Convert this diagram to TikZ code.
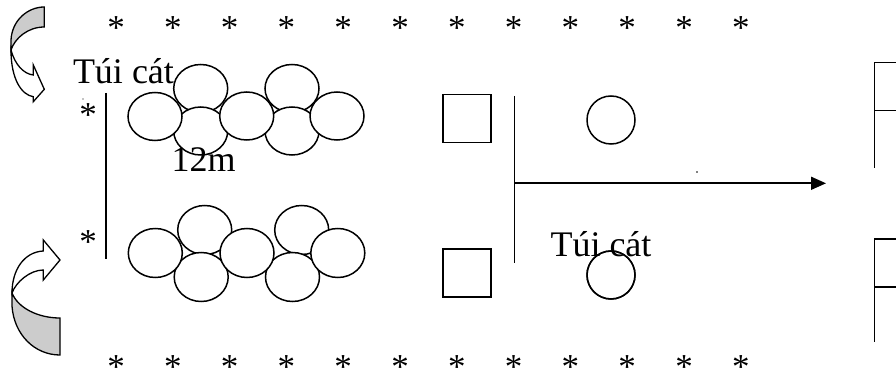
\documentclass[tikz,border=0pt]{standalone}
\usepackage{fontspec}
\setmainfont{Liberation Serif}
\usetikzlibrary{arrows.meta}
\definecolor{bandgray}{RGB}{204,204,204}
\tikzset{
  txt/.style={inner sep=0pt, outer sep=0pt, anchor=base west, font=\fontsize{36}{40}\selectfont},
  star/.style={inner sep=0pt, outer sep=0pt, anchor=base, font=\fontsize{35}{40}\selectfont},
  ln/.style={line width=1.6pt},
  sq/.style={draw, line width=1.5pt, minimum size=48pt, inner sep=0pt},
  rnd/.style={draw, circle, line width=1.5pt, minimum size=48pt, inner sep=0pt},
  ribbon/.style={draw, line width=1.3pt, line join=miter},
}
\begin{document}
\begin{tikzpicture}[x=1pt,y=-1pt]
\useasboundingbox (0,0) rectangle (896,379);

% stars
\foreach \i in {0,...,11}{
  \node[star] (st\i) at ({116+\i*56.8},39.5) {*};
  \node[star] (sb\i) at ({116+\i*56.8},378.5) {*};
}
\node[star] (sl1) at (88,126.5) {*};
\node[star] (sl2) at (88,253.5) {*};

% left vertical line
\coordinate (lt) at (106,93);
\coordinate (lb) at (106,259);
\draw[ln] (lt) -- (lb);

% top cluster of sand bags
\foreach \n/\x/\y in {tB/200.7/88.5, tE/292/88.5, tC/200.7/131, tF/292/131, tA/155/116.5, tD/246.7/116, tG/337/116}{
  \draw[line width=1.5pt, fill=white] (\x,\y) ellipse [x radius=27, y radius=24];
  \coordinate (\n) at (\x,\y);
}
% bottom cluster
\foreach \n/\x/\y in {bB/204.7/230, bE/301.7/230, bC/201.2/277, bF/292.5/277, bA/155.3/253, bD/247/253, bG/337.8/253}{
  \draw[line width=1.5pt, fill=white] (\x,\y) ellipse [x radius=27, y radius=24.5];
  \coordinate (\n) at (\x,\y);
}

% squares
\node[sq] (sq1) at (467,118.5) {};
\node[sq] (sq2) at (467,273) {};

% middle vertical line and arrow
\coordinate (mt) at (514.3,96);
\coordinate (mb) at (514.3,263.3);
\coordinate (mm) at (514.3,183.3);
\coordinate (ae) at (826,183.3);
\draw[ln] (mt) -- (mb);
\draw[ln, -{Triangle[length=15pt,width=13pt]}] (mm) -- (ae);

% round markers
\node[rnd] (c1) at (611,120) {};
\node[rnd] (c2) at (611,275) {};

% flags at right
\draw[ln] (896,62.7) -- (874.3,62.7) -- (874.3,167.7);
\draw[ln] (874.3,110.7) -- (896,110.7);
\draw[ln] (896,239.3) -- (874.3,239.3) -- (874.3,341.7);
\draw[ln] (874.3,287) -- (896,287);

% top curved arrow
\filldraw[ribbon, fill=bandgray] (11,50) -- (11,40) .. controls (12,20) and (28,7) .. (44.3,7) -- (44.3,27) .. controls (28,27) and (15,38) .. (11,50) -- cycle;
\filldraw[ribbon, fill=white] (11,50) .. controls (11,80) and (22,95) .. (33.3,96.7) -- (33.3,101.7) -- (44.3,89.3) -- (33.3,65) -- (33.3,75) .. controls (24,74) and (15,65) .. (11,50) -- cycle;

% bottom curved arrow
\filldraw[ribbon, fill=bandgray] (12,293) -- (12,306) .. controls (14,335) and (35,355) .. (60,355) -- (60,318) .. controls (38,318) and (18,308) .. (12,293) -- cycle;
\filldraw[ribbon, fill=white] (43.3,251) .. controls (24,252) and (12,270) .. (12,293) .. controls (16,282) and (30,270) .. (43.3,270) -- (43.3,280) -- (60,260) -- (43.3,240) -- cycle;

% texts
\node[txt] (t1) at (73,84) {Túi cát};
\node[txt] (t2) at (171.5,171.7) {12m};
\node[txt] (t3) at (550.5,256.7) {Túi cát};
\draw[line width=1.5pt] (611,275) circle (24);

% tiny specks
\fill (697,172) circle (0.8);
\fill (83,99) circle (0.6);
\end{tikzpicture}
\end{document}
